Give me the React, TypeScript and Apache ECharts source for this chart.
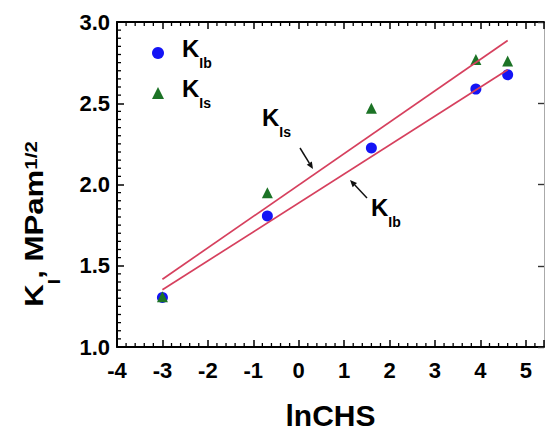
import React, { useEffect, useRef } from "react";
import * as echarts from "echarts";

const FONT = "'Liberation Sans', Arial, sans-serif";

// lnCHS values of the measured points
const lnCHS = [-3.0, -0.69, 1.6, 3.9, 4.6];
// K_Ib (circles) and K_Is (triangles), MPa·m^1/2
const kIb = [1.305, 1.806, 2.225, 2.587, 2.675];
const kIs = [1.31, 1.95, 2.47, 2.77, 2.76];
// linear fit end points
const fitX = [-3.0, 4.6];
const fitIb = [1.352, 2.706];
const fitIs = [1.417, 2.886];

const xMin = -4;
const xMax = 5.4;
const yMin = 1;
const yMax = 3;
const xMajor = 1;
const yMajor = 0.5;
const xMinorStep = 0.2;
const yMinorStep = 0.05;

const pairs = (xs: number[], ys: number[]) => xs.map((x, i) => [x, ys[i]]);

const richK = {
  k: { fontSize: 24, fontWeight: "bold", fontFamily: FONT, color: "#000", lineHeight: 24, padding: [0, 0, 10, 0] },
  s: { fontSize: 14, fontWeight: "bold", fontFamily: FONT, color: "#000", lineHeight: 14, padding: [20, 0, 0, 0] },
};
const richLegend = {
  k: { ...richK.k, padding: [0, 0, 10, 13] },
  s: richK.s,
};

function arrow(x1: number, y1: number, x2: number, y2: number) {
  const a = Math.atan2(y2 - y1, x2 - x1);
  const L = 7;
  const W = 3;
  const bx = x2 - L * Math.cos(a);
  const by = y2 - L * Math.sin(a);
  const px = -Math.sin(a) * W;
  const py = Math.cos(a) * W;
  return [
    { type: "line", shape: { x1, y1, x2: bx, y2: by }, style: { stroke: "#111", lineWidth: 1.5 } },
    {
      type: "polygon",
      shape: { points: [[x2, y2], [bx + px, by + py], [bx - px, by - py]] },
      style: { fill: "#111" },
    },
  ];
}

const isMultiple = (v: number, step: number) => Math.abs(v / step - Math.round(v / step)) < 1e-6;
const MINOR_LEN = 4;

export default function App() {
  const ref = useRef<HTMLDivElement>(null);
  useEffect(() => {
    if (!ref.current) return;
    const chart = echarts.init(ref.current, null, { renderer: "svg" });
    const intLabel = (v: number) => (Math.abs(v - Math.round(v)) < 1e-9 ? String(Math.round(v)) : "");
    const majorX = {
      type: "value",
      min: xMin,
      max: xMax,
      interval: xMajor,
      splitLine: { show: false },
      axisLine: { show: true, onZero: false, lineStyle: { color: "#000", width: 1.8 } },
      axisTick: { show: true, inside: true, length: 7, lineStyle: { color: "#000", width: 1.5 } },
    };
    const annotations: any[] = [
      {
        type: "text",
        x: 42,
        y: 224,
        rotation: Math.PI / 2,
        scaleX: 1.2,
        scaleY: 1,
        style: {
          text: "{m|K}{sb|I}{m|, MPam}{sp|1/2}",
          align: "center",
          verticalAlign: "middle",
          rich: {
            m: { fontSize: 26, fontWeight: "bold", fontFamily: FONT, color: "#000", lineHeight: 26, padding: [0, 0, 16, 0] },
            sb: { fontSize: 16, fontWeight: "bold", fontFamily: FONT, color: "#000", lineHeight: 16, padding: [26, 0, 0, 0] },
            sp: { fontSize: 17, fontWeight: "bold", fontFamily: FONT, color: "#000", lineHeight: 17, padding: [2, 0, 23, 0] },
          },
        },
      },
      {
        type: "text",
        x: 262,
        y: 110,
        style: { text: "{k|K}{s|Is}", align: "left", verticalAlign: "top", rich: richK },
      },
      {
        type: "text",
        x: 371,
        y: 200,
        style: { text: "{k|K}{s|Ib}", align: "left", verticalAlign: "top", rich: richK },
      },
      ...arrow(300, 148, 313, 169),
      ...arrow(367, 198, 350, 180),
    ];
    const option: any = {
      animation: false,
      backgroundColor: "#fff",
      grid: { left: 117, right: 1, top: 22, bottom: 87, containLabel: false },
      xAxis: [
        {
          ...majorX,
          position: "bottom",
          axisLabel: { formatter: intLabel, fontSize: 22, fontWeight: "bold", color: "#000", margin: 12, fontFamily: FONT },
          name: "lnCHS",
          nameLocation: "middle",
          nameGap: 53,
          nameTextStyle: { fontSize: 30, fontWeight: "bold", color: "#000", fontFamily: FONT },
        },
        { ...majorX, position: "top", axisLabel: { show: false } },
      ],
      yAxis: [
        {
          type: "value",
          min: yMin,
          max: yMax,
          interval: yMajor,
          position: "left",
          splitLine: { show: false },
          axisLine: { show: true, onZero: false, lineStyle: { color: "#000", width: 2 } },
          axisTick: { show: true, inside: true, length: 7, lineStyle: { color: "#000", width: 1.5 } },
          axisLabel: {
            formatter: (v: number) => v.toFixed(1),
            fontSize: 22,
            fontWeight: "bold",
            color: "#000",
            margin: 7,
            fontFamily: FONT,
          },
        },
        {
          type: "value",
          min: yMin,
          max: yMax,
          interval: yMajor,
          position: "right",
          splitLine: { show: false },
          axisLine: { show: true, onZero: false, lineStyle: { color: "#aaa", width: 1 } },
          axisTick: { show: true, inside: true, length: 6, lineStyle: { color: "#333", width: 1.4 } },
          axisLabel: { show: false },
        },
      ],
      legend: {
        data: ["KIb", "KIs"],
        orient: "vertical",
        left: 152,
        top: 36,
        padding: 0,
        itemWidth: 12,
        itemHeight: 12,
        itemGap: 6,
        formatter: (n: string) => (n === "KIb" ? "{k|K}{s|Ib}" : "{k|K}{s|Is}"),
        textStyle: { rich: richLegend },
      },
      series: [
        {
          name: "KIb",
          type: "scatter",
          symbol: "circle",
          symbolSize: 11,
          itemStyle: { color: "#1414f5", opacity: 1 },
          data: pairs(lnCHS, kIb),
          z: 2,
        },
        {
          name: "KIs",
          type: "scatter",
          symbol: "triangle",
          symbolSize: 11,
          itemStyle: { color: "#1c7326", opacity: 1 },
          data: pairs(lnCHS, kIs),
          z: 3,
        },
        {
          name: "fitIb",
          type: "line",
          showSymbol: false,
          symbol: "none",
          lineStyle: { color: "#d6405e", width: 1.7 },
          data: pairs(fitX, fitIb),
          z: 4,
        },
        {
          name: "fitIs",
          type: "line",
          showSymbol: false,
          symbol: "none",
          lineStyle: { color: "#d6405e", width: 1.7 },
          data: pairs(fitX, fitIs),
          z: 4,
        },
      ],
      graphic: annotations,
    };
    chart.setOption(option);

    // minor ticks placed through the chart's own scales
    const ticks: any[] = [];
    const st = { stroke: "#000", lineWidth: 1.3 };
    const toPx = (x: number, y: number) => chart.convertToPixel({ gridIndex: 0 }, [x, y]) as number[];
    const nx = Math.round((xMax - xMin) / xMinorStep);
    for (let i = 1; i < nx; i++) {
      const x = xMin + i * xMinorStep;
      if (isMultiple(x, xMajor)) continue;
      const b = toPx(x, yMin);
      const t = toPx(x, yMax);
      if (!b || !t) continue;
      ticks.push({ type: "line", shape: { x1: b[0], y1: b[1], x2: b[0], y2: b[1] - MINOR_LEN }, style: st });
      ticks.push({ type: "line", shape: { x1: t[0], y1: t[1], x2: t[0], y2: t[1] + MINOR_LEN }, style: st });
    }
    const ny = Math.round((yMax - yMin) / yMinorStep);
    for (let j = 1; j < ny; j++) {
      const y = yMin + j * yMinorStep;
      if (isMultiple(y, yMajor)) continue;
      const l = toPx(xMin, y);
      if (!l) continue;
      ticks.push({ type: "line", shape: { x1: l[0], y1: l[1], x2: l[0] + MINOR_LEN, y2: l[1] }, style: st });
    }
    chart.setOption({ graphic: [...annotations, ...ticks] }, { replaceMerge: ["graphic"] });

    return () => chart.dispose();
  }, []);
  return (
    <div
      ref={ref}
      style={{ position: "fixed", left: 0, top: 0, width: 547, height: 435, background: "#fff" }}
    />
  );
}
